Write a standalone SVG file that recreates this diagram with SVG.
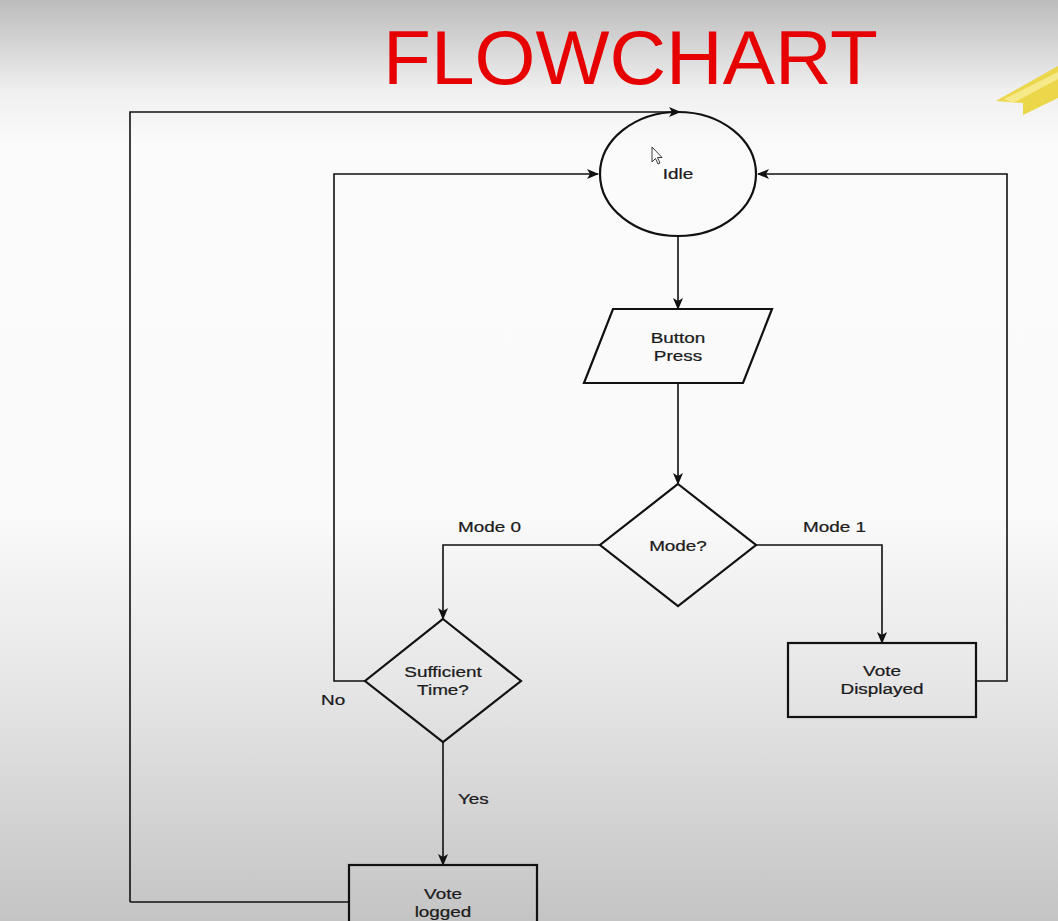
<svg xmlns="http://www.w3.org/2000/svg" width="1058" height="921" viewBox="0 0 1058 921">
<defs>
<linearGradient id="bg" x1="0" y1="0" x2="0" y2="1">
<stop offset="0" stop-color="#bcbcbc"/>
<stop offset="0.1" stop-color="#f0f0f0"/>
<stop offset="0.16" stop-color="#fbfbfb"/>
<stop offset="0.56" stop-color="#fafafa"/>
<stop offset="0.76" stop-color="#e4e4e4"/>
<stop offset="1" stop-color="#c4c4c4"/>
</linearGradient>
<marker id="arr" viewBox="0 0 12 10" refX="11" refY="5" markerWidth="12" markerHeight="10" markerUnits="userSpaceOnUse" orient="auto">
<path d="M0,0 L12,5 L0,10 L3,5 Z" fill="#111"/>
</marker>
<style>
.node{fill:none;stroke:#111;stroke-width:2.2}
.edge{fill:none;stroke:#111;stroke-width:1.6}
.t{font-family:"Liberation Sans",Arial,sans-serif;font-size:15.5px;fill:#1c1c1c;text-anchor:middle;stroke:#1c1c1c;stroke-width:0.25}
.lbl{font-family:"Liberation Sans",Arial,sans-serif;font-size:15.5px;fill:#1c1c1c;stroke:#1c1c1c;stroke-width:0.25}
</style>
</defs>
<rect x="0" y="0" width="1058" height="921" fill="url(#bg)"/>
<!-- pencil decoration -->
<polygon points="996,101 1058,66 1058,98 1023,115 1023,103" fill="#ecd64a"/>
<polygon points="1004,99 1058,72 1058,79 1013,103" fill="#f6e98a"/>
<text x="383" y="84" font-family="Liberation Sans,Arial,sans-serif" font-size="76" fill="#e60000" textLength="495" lengthAdjust="spacingAndGlyphs">FLOWCHART</text>
<g id="connectors">
<path class="edge" d="M130,902 L130,112 L680,112" marker-end="url(#arr)"/>
<path class="edge" d="M349,902 L130,902"/>
<path class="edge" d="M365,681 L334,681 L334,174 L598,174" marker-end="url(#arr)"/>
<path class="edge" d="M976,681 L1007,681 L1007,174 L758,174" marker-end="url(#arr)"/>
<path class="edge" d="M678,236 L678,309" marker-end="url(#arr)"/>
<path class="edge" d="M678,383 L678,484" marker-end="url(#arr)"/>
<path class="edge" d="M600,545 L443,545 L443,619" marker-end="url(#arr)"/>
<path class="edge" d="M756,545 L882,545 L882,643" marker-end="url(#arr)"/>
<path class="edge" d="M443,742 L443,865" marker-end="url(#arr)"/>
<text class="lbl" transform="translate(458,532) scale(1.22,1)">Mode 0</text>
<text class="lbl" transform="translate(803,532) scale(1.22,1)">Mode 1</text>
<text class="lbl" transform="translate(321,705) scale(1.22,1)">No</text>
<text class="lbl" transform="translate(458,804) scale(1.22,1)">Yes</text>
</g>
<g id="idle">
<ellipse class="node" cx="678" cy="174" rx="78" ry="62"/>
<text class="t" transform="translate(678,179) scale(1.22,1)">Idle</text>
</g>
<g id="button-press">
<polygon class="node" points="613,309 772,309 743,383 584,383"/>
<text class="t" transform="translate(678,343) scale(1.22,1)">Button</text>
<text class="t" transform="translate(678,361) scale(1.22,1)">Press</text>
</g>
<g id="mode">
<polygon class="node" points="678,484 756,545 678,606 600,545"/>
<text class="t" transform="translate(678,551) scale(1.22,1)">Mode?</text>
</g>
<g id="sufficient-time">
<polygon class="node" points="443,619 521,681 443,742 365,681"/>
<text class="t" transform="translate(443,677) scale(1.22,1)">Sufficient</text>
<text class="t" transform="translate(443,695) scale(1.22,1)">Time?</text>
</g>
<g id="vote-displayed">
<rect class="node" x="788" y="643" width="188" height="74"/>
<text class="t" transform="translate(882,676) scale(1.22,1)">Vote</text>
<text class="t" transform="translate(882,694) scale(1.22,1)">Displayed</text>
</g>
<g id="vote-logged">
<rect class="node" x="349" y="865" width="188" height="74"/>
<text class="t" transform="translate(443,899) scale(1.22,1)">Vote</text>
<text class="t" transform="translate(443,917) scale(1.22,1)">logged</text>
</g>
<!-- mouse cursor -->
<path d="M652,147 L652,162 L655.5,158.5 L658,164 L660,163 L657.5,157.5 L662,157.5 Z" fill="#fff" stroke="#222" stroke-width="0.9"/>
</svg>
